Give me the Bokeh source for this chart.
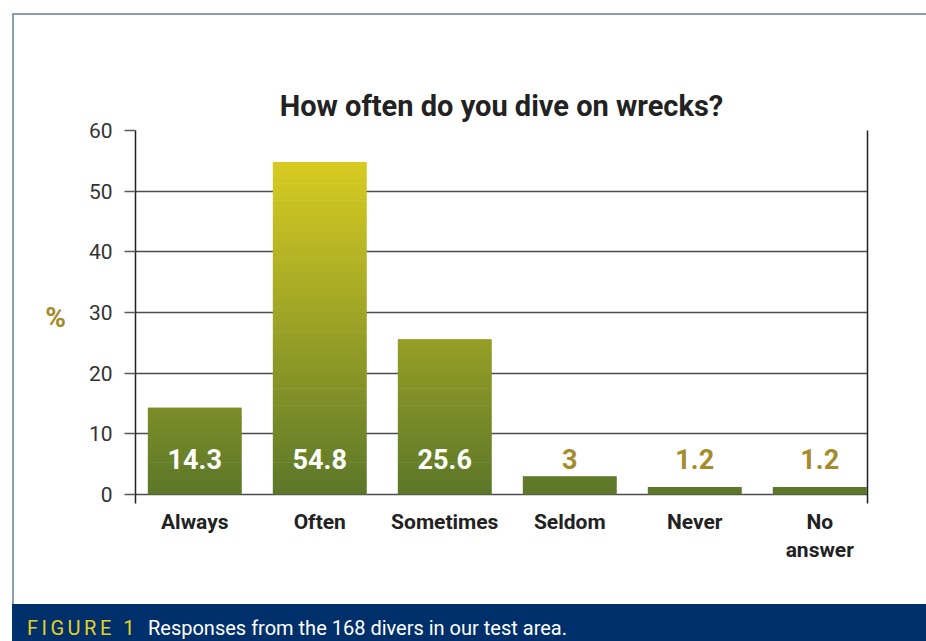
import numpy as np
from bokeh.plotting import figure
from bokeh.models import Range1d, FixedTicker, LinearAxis, Div
from bokeh.layouts import column, row
from bokeh.core.properties import value
from bokeh.embed import file_html
from bokeh.resources import INLINE

# ---- data ----
categories = ["Always", "Often", "Sometimes", "Seldom", "Never", "No\nanswer"]
percent = [14.3, 54.8, 25.6, 3, 1.2, 1.2]
label_texts = ["14.3", "54.8", "25.6", "3", "1.2", "1.2"]
y_ticks = [0, 10, 20, 30, 40, 50, 60]

# ---- styles ----
FONT = "Roboto"
C_BOTTOM = np.array([92, 119, 42])
C_TOP = np.array([216, 204, 34])
GOLD = "#a48c2c"
LINE_BORDER = "#8da0a9"
NAVY = "#00306b"

xpos = np.arange(len(categories))
bar_w = 0.75

p = figure(width=912, height=589, output_backend="svg", toolbar_location=None,
           x_range=Range1d(-0.474, 5.382), y_range=Range1d(-1.5, 60),
           min_border_left=121, min_border_right=59, min_border_top=115,
           min_border_bottom=101, outline_line_color=None,
           background_fill_color="white", border_fill_color="white",
           margin=0)

p.title.text = "How often do you dive on wrecks?"
p.title.align = "center"
p.title.text_font = FONT
p.title.text_font_size = "29px"
p.title.text_font_style = "bold"
p.title.text_color = "#222222"
p.title.standoff = 15

# gradient bars: thin slices coloured by absolute height
step = 0.2
lefts, rights, bottoms, tops, colors = [], [], [], [], []
for xi, v in zip(xpos, percent):
    b = 0.0
    while b < v - 1e-9:
        t = min(b + step * 1.6, v)
        mid = min(b + step / 2, v)
        frac = mid / 55.0
        c = (C_BOTTOM + (C_TOP - C_BOTTOM) * frac).round().astype(int)
        lefts.append(xi - bar_w / 2)
        rights.append(xi + bar_w / 2)
        bottoms.append(b)
        tops.append(t)
        colors.append("#%02x%02x%02x" % tuple(c))
        b += step
p.quad(left=lefts, right=rights, bottom=bottoms, top=tops,
       fill_color=colors, line_color=None)

# value labels
lab_colors = ["white" if v > 10 else GOLD for v in percent]
p.text(x=xpos, y=[5.8] * len(xpos), text=label_texts, text_color=lab_colors,
       text_align="center", text_baseline="middle",
       text_font=value(FONT), text_font_size="27px", text_font_style="bold")

# grid
p.xgrid.grid_line_color = None
p.ygrid.ticker = FixedTicker(ticks=y_ticks)
p.ygrid.grid_line_color = "#4d4d4d"
p.ygrid.grid_line_width = 1.3

# y axis
ya = p.yaxis[0]
ya.ticker = FixedTicker(ticks=y_ticks)
ya.axis_line_color = "#222222"
ya.axis_line_width = 1.5
ya.major_tick_out = 11
ya.major_tick_in = 0
ya.major_tick_line_color = "#5a5a5a"
ya.major_tick_line_width = 1.3
ya.minor_tick_line_color = None
ya.major_label_text_font = FONT
ya.major_label_text_font_size = "21px"
ya.major_label_text_color = "#333333"
ya.major_label_standoff = 12
ya.axis_label = "%"
ya.axis_label_orientation = "horizontal"
ya.axis_label_text_font = FONT
ya.axis_label_text_font_size = "28px"
ya.axis_label_text_font_style = "bold"
ya.axis_label_text_color = GOLD
ya.axis_label_standoff = 20

# right closing line
ra = LinearAxis(ticker=FixedTicker(ticks=[]), axis_line_color="#222222",
                axis_line_width=1.5, major_tick_line_color=None,
                minor_tick_line_color=None, major_label_text_font_size="0px")
p.add_layout(ra, "right")

# x axis
xa = p.xaxis[0]
xa.ticker = FixedTicker(ticks=list(xpos))
xa.major_label_overrides = {int(i): c for i, c in zip(xpos, categories)}
xa.axis_line_color = None
xa.major_tick_line_color = None
xa.minor_tick_line_color = None
xa.major_tick_out = 0
xa.major_label_standoff = 6
xa.major_label_text_font = FONT
xa.major_label_text_font_size = "21px"
xa.major_label_text_font_style = "bold"
xa.major_label_text_color = "#222222"

# frame lines and caption
top_white = Div(text="", width=926, height=13, margin=0)
left_white = Div(text="", width=12, height=591, margin=0)
left_line = Div(text="", width=2, height=591, margin=0,
                styles={"background-color": LINE_BORDER})
top_line = Div(text="", width=912, height=2, margin=0,
               styles={"background-color": LINE_BORDER})
cap_white = Div(text="", width=12, height=37, margin=0)
caption = Div(
    text=('<div style="font-family:Roboto;font-size:20px;color:white;'
          'padding:10px 0 0 15px;white-space:nowrap;">'
          '<span style="color:#e6d21e;letter-spacing:3.5px;">FIGURE 1</span>'
          '<span style="margin-left:10px;">Responses from the 168 divers in our test area.</span></div>'),
    width=914, height=37, margin=0, styles={"background-color": NAVY})

layout = column(
    top_white,
    row(left_white, left_line, column(top_line, p, margin=0), margin=0),
    row(cap_white, caption, margin=0),
    margin=0,
)

open("out.html", "w").write(file_html(layout, INLINE))
